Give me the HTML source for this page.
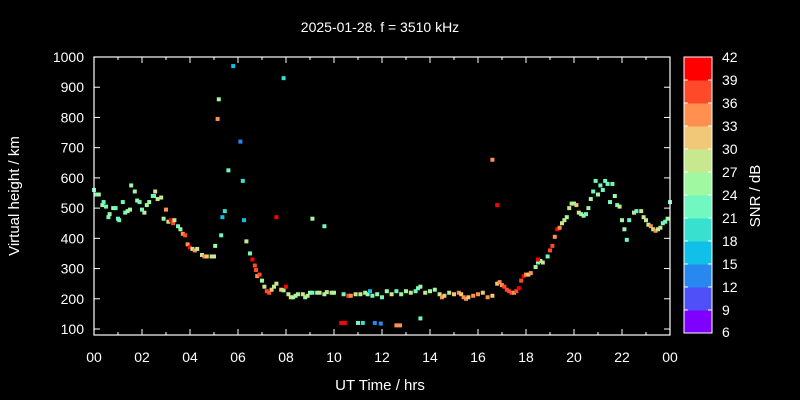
<!DOCTYPE html>
<html><head><meta charset="utf-8"><style>
html,body{margin:0;padding:0;background:#000;}
svg{display:block;font-family:"Liberation Sans",sans-serif;}
</style></head><body>
<svg id="chart" width="800" height="400" viewBox="0 0 800 400">
<rect x="0" y="0" width="800" height="400" fill="#000"/>
<text x="380" y="32" fill="#fff" font-size="14" text-anchor="middle">2025-01-28. f = 3510 kHz</text>
<g id="points"></g>
<g id="axes"></g>
<rect x="94" y="57" width="576" height="278" fill="none" stroke="#fff" stroke-width="1.2"/>
<text x="380" y="390" fill="#fff" font-size="15" text-anchor="middle">UT Time / hrs</text>
<text transform="translate(19,196) rotate(-90)" fill="#fff" font-size="15" text-anchor="middle">Virtual height / km</text>
<g id="cbar"></g>
<text transform="translate(760,196) rotate(-90)" fill="#fff" font-size="15" text-anchor="middle">SNR / dB</text>
</svg>
<script>
const xTicks = ["00","02","04","06","08","10","12","14","16","18","20","22","00"];
const yTicks = [100,200,300,400,500,600,700,800,900,1000];
const cbarTicks = [6,9,12,15,18,21,24,27,30,33,36,39,42];
const cbarColors = ["#8000ff","#5050f8","#2888f0","#10c0e8","#38e0d0","#70f8c0","#a0f8a0","#c8e890","#f0c878","#ff9050","#ff4a2a","#ff0000"];
const times = [0.0,0.1,0.2,0.35,0.4,0.5,0.6,0.65,0.8,0.9,1.0,1.05,1.2,1.3,1.4,1.5,1.55,1.7,1.8,1.9,2.0,2.1,2.2,2.3,2.45,2.5,2.55,2.65,2.8,2.9,3.0,3.1,3.2,3.3,3.35,3.5,3.6,3.7,3.8,3.9,4.0,4.1,4.2,4.3,4.5,4.6,4.7,4.9,5.0,5.05,5.3,
6.35,6.5,6.6,6.7,6.75,6.8,6.9,7.0,7.1,7.2,7.3,7.4,7.5,7.6,7.8,7.9,8.0,8.1,8.2,8.3,8.4,8.5,8.7,8.8,8.9,9.0,9.1,9.3,9.4,9.6,9.7,9.9,10.0,10.4,10.6,10.7,10.9,11.1,11.3,11.4,11.6,11.8,12.0,12.2,12.4,12.6,12.8,13.0,13.2,13.4,13.5,13.6,13.8,14.0,14.2,14.4,14.5,14.6,14.8,15.0,15.2,15.3,15.4,15.5,15.6,15.8,16.0,16.2,16.4,16.6,16.8,16.9,17.0,17.1,17.2,17.3,17.4,17.5,17.6,17.7,17.8,17.9,18.0,18.1,18.2,18.4,18.5,18.6,18.7,18.9,19.0,19.1,19.2,19.3,19.4,19.5,19.6,19.7,19.8,19.9,20.0,20.1,20.2,20.3,20.4,20.5,20.6,20.7,20.8,20.9,21.0,21.1,21.2,21.3,21.4,21.5,21.6,21.7,21.8,21.9,22.0,22.1,22.2,22.3,22.5,22.6,22.8,22.9,23.0,23.1,23.2,23.3,23.4,23.5,23.6,23.7,23.8,23.9,24.0,
5.2,5.15,5.8,6.1,6.2,5.6,5.45,5.35,6.25,7.6,7.9,9.1,9.6,10.3,10.45,11.0,11.2,11.7,11.95,12.6,12.75,13.6,16.6,16.8,11.5,18.5];
const heights = [560,545,545,510,520,505,470,480,500,500,465,460,520,485,490,495,575,555,525,520,495,485,510,520,540,540,555,530,535,465,495,455,460,450,460,440,430,415,410,380,370,365,360,365,345,340,340,340,340,375,410,
390,350,330,310,295,275,280,260,240,225,220,230,240,250,230,228,240,215,205,205,210,215,215,205,210,220,220,220,220,215,222,220,220,215,210,210,215,215,220,215,210,215,205,225,215,225,215,225,220,225,235,240,220,225,230,215,205,210,220,215,220,215,205,200,205,210,215,220,205,210,250,255,245,240,230,225,220,220,225,235,260,275,280,280,285,305,320,325,320,340,360,375,405,430,435,450,460,470,500,515,515,510,485,480,475,480,500,530,555,590,545,575,560,590,580,520,580,540,510,505,460,430,395,460,485,490,490,470,460,445,440,430,425,430,435,450,455,465,520,
860,795,970,720,590,625,490,470,460,470,930,465,440,120,120,120,120,120,118,112,112,135,660,510,225,330];
const snr = [21,21,24,24,21,21,21,24,24,21,21,21,21,21,24,24,24,24,24,21,21,27,24,24,21,21,27,27,27,24,33,27,39,36,27,21,24,33,36,33,39,27,33,27,27,33,30,27,27,24,21,
27,21,39,36,36,33,36,24,27,36,36,30,27,27,30,24,39,27,27,24,27,24,27,24,27,24,21,24,27,24,27,27,24,21,36,33,27,27,24,24,21,24,21,24,27,21,24,24,27,21,21,24,27,24,24,27,33,30,27,30,33,30,33,33,30,33,33,30,33,30,30,33,33,36,36,36,36,33,36,39,36,39,33,30,33,24,21,24,27,21,36,36,33,39,33,27,27,24,27,27,24,30,27,24,24,21,24,24,21,21,24,21,21,21,21,21,21,24,21,27,24,24,21,21,27,21,27,27,27,27,33,27,33,27,27,21,21,24,21,
24,33,15,12,18,21,18,15,15,39,18,24,21,39,39,21,18,12,12,33,33,21,33,39,15,39];

const NS = "http://www.w3.org/2000/svg";
const X0 = 94, X1 = 670, Y0 = 57, Y1 = 335;
function xScale(t){ return X0 + t * (X1 - X0) / 24; }
function yScale(h){ return 57 + (1000 - h) * (329 - 57) / 900; }
function colorFor(s){ let i = Math.floor((s - 6) / 3); if (i < 0) i = 0; if (i > 11) i = 11; return cbarColors[i]; }
function mk(tag, attrs, parent){ const e = document.createElementNS(NS, tag); for (const k in attrs) e.setAttribute(k, attrs[k]); parent.appendChild(e); return e; }

const pts = document.getElementById('points');
for (let i = 0; i < times.length; i++) {
  const r = mk('rect', {x: xScale(times[i]) - 2, y: yScale(heights[i]) - 2, width: 4, height: 4, fill: colorFor(snr[i])}, pts);
  
  
}

const ax = document.getElementById('axes');
xTicks.forEach((lab, i) => {
  const x = xScale(i * 2);
  const t1 = mk('line', {x1: x, x2: x, y1: Y1, y2: Y1 - 6, stroke: '#fff', 'stroke-width': 1}, ax);
  
  
  const t2 = mk('line', {x1: x, x2: x, y1: Y0, y2: Y0 + 6, stroke: '#fff', 'stroke-width': 1}, ax);
  
  
  if (i < xTicks.length - 1) {
    const xm = xScale(i * 2 + 1);
    const m1 = mk('line', {x1: xm, x2: xm, y1: Y1, y2: Y1 - 3, stroke: '#fff', 'stroke-width': 1}, ax);
    
    
    const m2 = mk('line', {x1: xm, x2: xm, y1: Y0, y2: Y0 + 3, stroke: '#fff', 'stroke-width': 1}, ax);
    
    
  }
  const tx = mk('text', {x: x, y: 362, fill: '#fff', 'font-size': 14, 'text-anchor': 'middle'}, ax);
  tx.textContent = lab;
  
  
});
yTicks.forEach(v => {
  const y = yScale(v);
  const l1 = mk('line', {x1: X0, x2: X0 + 6, y1: y, y2: y, stroke: '#fff', 'stroke-width': 1}, ax);
  
  
  const l2 = mk('line', {x1: X1, x2: X1 - 6, y1: y, y2: y, stroke: '#fff', 'stroke-width': 1}, ax);
  
  
  const tx = mk('text', {x: 84, y: y + 5, fill: '#fff', 'font-size': 14, 'text-anchor': 'end'}, ax);
  tx.textContent = v;
  
  
});

const cb = document.getElementById('cbar');
const CBX = 684, CBW = 28, CBT = 57, STEP = 23;
for (let i = 0; i < 12; i++) {
  const r = mk('rect', {x: CBX, y: CBT + (11 - i) * STEP, width: CBW, height: STEP + 0.5, fill: cbarColors[i]}, cb);
  
  
}
const fr = mk('rect', {x: CBX, y: CBT, width: CBW, height: STEP * 12, fill: 'none', stroke: '#fff', 'stroke-width': 1}, cb);


cbarTicks.forEach((v, i) => {
  const y = CBT + (12 - i) * STEP;
  const a = mk('line', {x1: CBX, x2: CBX + 4, y1: y, y2: y, stroke: '#fff', 'stroke-width': 1}, cb);
  
  
  const b = mk('line', {x1: CBX + CBW, x2: CBX + CBW - 4, y1: y, y2: y, stroke: '#fff', 'stroke-width': 1}, cb);
  
  
  const tx = mk('text', {x: 722, y: Math.min(y, 332) + 5, fill: '#fff', 'font-size': 14}, cb);
  tx.textContent = v;
  
  
});
</script>
</body></html>
